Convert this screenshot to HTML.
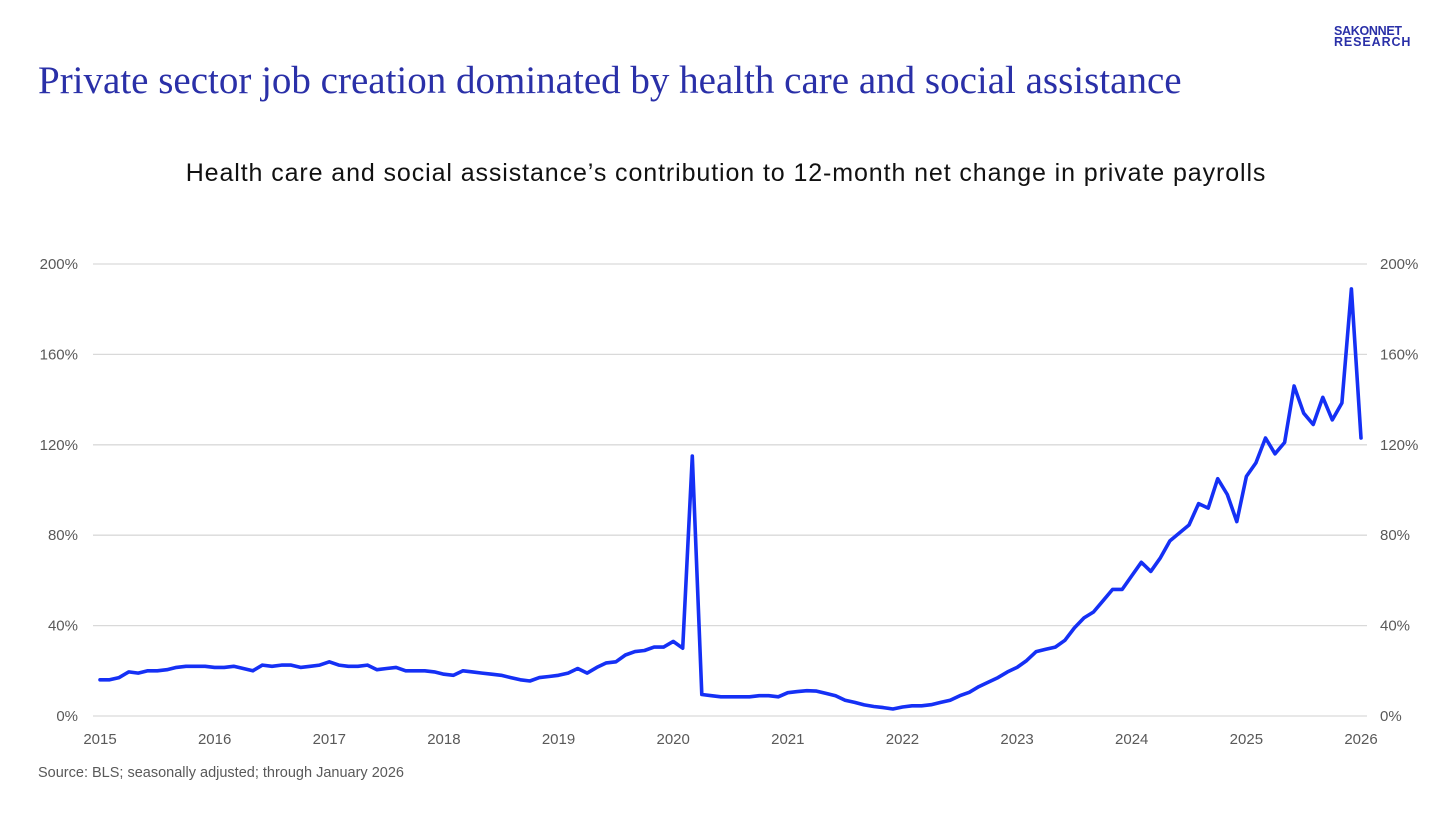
<!DOCTYPE html>
<html><head><meta charset="utf-8">
<style>
html,body{margin:0;padding:0;background:#fff;}
body{width:1456px;height:819px;position:relative;overflow:hidden;font-family:"Liberation Sans",sans-serif;}
.title{position:absolute;left:38px;top:58px;font-family:"Liberation Serif",serif;font-size:39px;color:#2a30a8;white-space:nowrap;}
.logo{position:absolute;left:1334px;top:26px;color:#2a30a8;font-weight:bold;font-size:12.5px;line-height:11px;letter-spacing:-0.3px;}
.logo span{display:block;letter-spacing:0.9px;}
.sub{position:absolute;left:0;width:1452px;top:159px;text-align:center;font-size:25px;letter-spacing:0.9px;color:#111;white-space:nowrap;}
.src{position:absolute;left:38px;top:765px;font-size:14.5px;color:#595959;}
svg{position:absolute;left:0;top:0;}
</style></head><body>
<div class="title">Private sector job creation dominated by health care and social assistance</div>
<div class="logo">SAKONNET<span>RESEARCH</span></div>
<div class="sub">Health care and social assistance’s contribution to 12-month net change in private payrolls</div>
<div class="src">Source: BLS; seasonally adjusted; through January 2026</div>
<svg id="chart" width="1456" height="819"></svg>
<script>
const yTicks=[0,40,80,120,160,200];
const xYears=[2015,2016,2017,2018,2019,2020,2021,2022,2023,2024,2025,2026];
const startYear=2015;
const values=[
16,16,17,19.5,19,20,20,20.5,21.5,22,22,22,
21.5,21.5,22,21,20,22.5,22,22.5,22.5,21.5,22,22.5,
24,22.5,22,22,22.5,20.5,21,21.5,20,20,20,19.5,
18.5,18,20,19.5,19,18.5,18,17,16,15.5,17,17.5,
18,19,21,19,21.5,23.5,24,27,28.5,29,30.5,30.5,
33,30,115,9.5,9,8.5,8.5,8.5,8.5,9,9,8.5,
10.3,10.8,11.2,11,10,9,7,6,4.9,4.2,3.7,3.1,
4,4.5,4.5,5,6,7,9,10.5,13,15,17,19.5,
21.5,24.5,28.5,29.5,30.5,33.5,39,43.4,46,51,56,56,
62,68,64,70,77.5,81,84.5,94,92,105,98,86,
106,112,123,116,121,146,134,129,141,131,138.5,189,
123];
const svg=document.getElementById('chart');
const NS='http://www.w3.org/2000/svg';
const x0=100,x1=1361,yb=716,yt=264;
function xScale(m){return x0+(x1-x0)*m/((xYears[xYears.length-1]-startYear)*12);}
function yScale(v){return yb-(yb-yt)*v/200;}
function mk(t,a){const e=document.createElementNS(NS,t);for(const k in a)e.setAttribute(k,a[k]);svg.appendChild(e);return e;}
yTicks.forEach(v=>{
  const g=mk('line',{x1:93,x2:1367,y1:yScale(v),y2:yScale(v),stroke:'#d9d9d9','stroke-width':1.3});
  
  
  const l=mk('text',{x:78,y:yScale(v)+5,'text-anchor':'end','font-size':15,fill:'#595959'});
  l.textContent=v+'%';
  
  
  const r=mk('text',{x:1380,y:yScale(v)+5,'text-anchor':'start','font-size':15,fill:'#595959'});
  r.textContent=v+'%';
  
  
});
xYears.forEach(y=>{
  const t=mk('text',{x:xScale((y-startYear)*12),y:744,'text-anchor':'middle','font-size':15,fill:'#595959'});
  t.textContent=y;
  
  
});
const pts=values.map((v,i)=>xScale(i).toFixed(1)+','+yScale(v).toFixed(1)).join(' ');
const pl=mk('polyline',{points:pts,fill:'none',stroke:'#1530f5','stroke-width':3.6,'stroke-linejoin':'round','stroke-linecap':'round'});


</script>
</body></html>
